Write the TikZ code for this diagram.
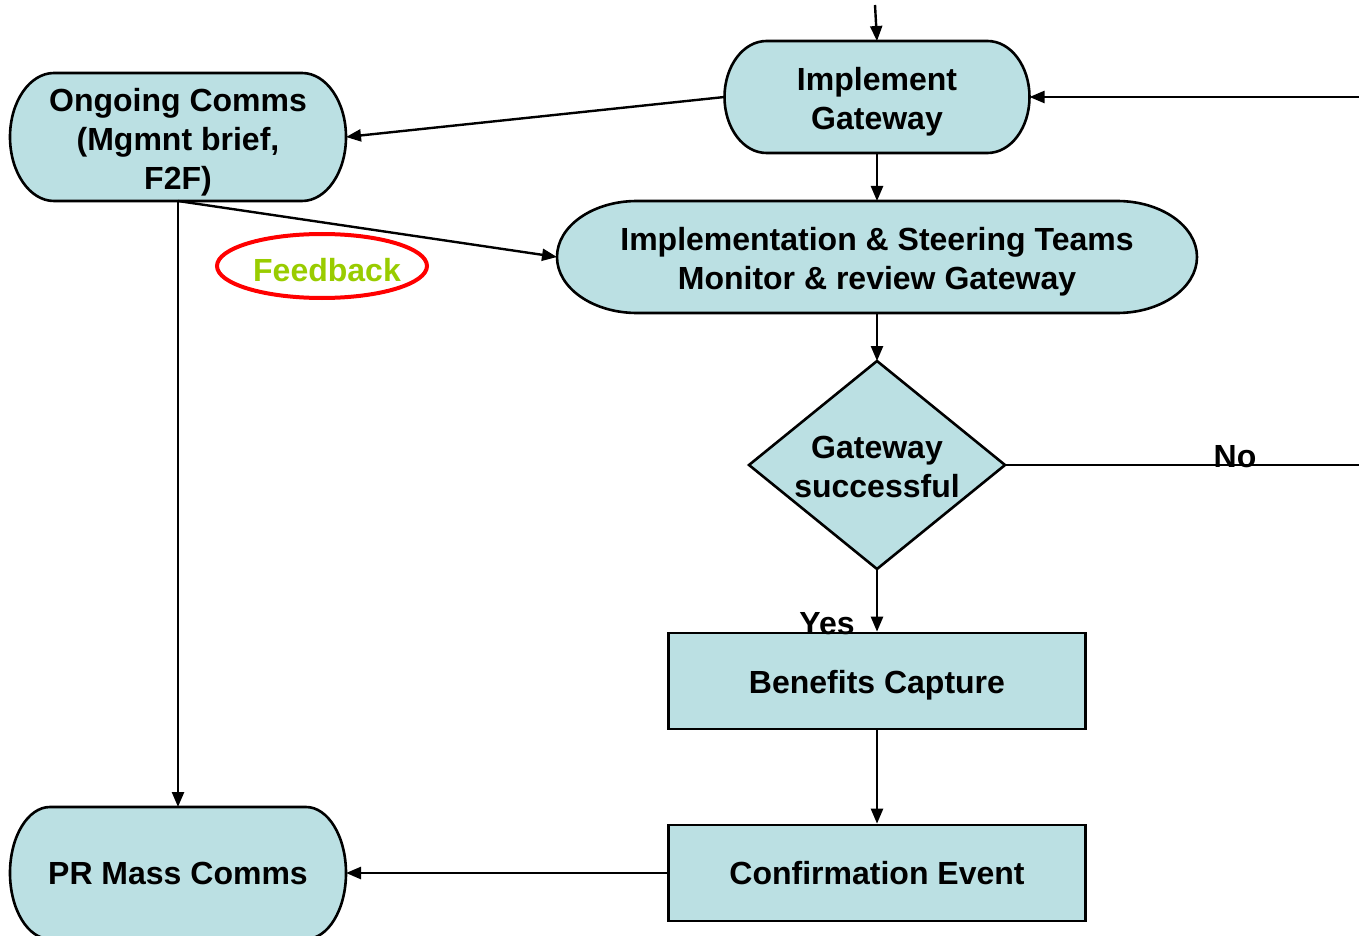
\documentclass[tikz,border=0pt]{standalone}
\usepackage{fontspec}
\setmainfont{Liberation Sans}
\usetikzlibrary{arrows.meta,shapes.geometric,backgrounds}
\definecolor{boxfill}{RGB}{187,224,227}
\definecolor{fbgreen}{RGB}{153,204,0}
\tikzset{
  lbl/.style={font=\fontsize{16pt}{19.5pt}\selectfont\bfseries, align=center, inner sep=0pt},
  outline/.style={draw=black, line width=1.3pt, fill=boxfill},
  frame/.style={rectangle, inner sep=0pt, outer sep=0pt},
  stepbox/.style={outline, rectangle, inner sep=0pt, minimum width=208.5pt, minimum height=48pt},
  flow/.style={draw=black, line width=1.2pt, -{Triangle[length=7.5pt,width=6pt]}},
  plain/.style={draw=black, line width=1.2pt},
  tag/.style={font=\fontsize{16pt}{19.5pt}\selectfont\bfseries, inner sep=0pt, anchor=base},
}
% rounded terminal outline around a named node: #1 node, #2 end x radius, #3 end y radius
\newcommand\pillshape[3]{%
  \path[outline] ([xshift=#2]#1.north west) -- ([xshift=-#2]#1.north east)
    arc[start angle=90, end angle=-90, x radius=#2, y radius=#3]
    -- ([xshift=#2]#1.south west)
    arc[start angle=270, end angle=90, x radius=#2, y radius=#3] -- cycle;}
\begin{document}
\begin{tikzpicture}[x=0.5pt, y=-0.5pt]
\useasboundingbox (0,0) rectangle (1359,936);

% terminals (frames) and their texts
\node[frame, minimum width=152.5pt, minimum height=56pt] (ig) at (877,97) {};
\node[frame, minimum width=168pt, minimum height=64pt] (oc) at (178,137) {};
\node[frame, minimum width=320pt, minimum height=56pt] (ims) at (877,257) {};
\node[frame, minimum width=168pt, minimum height=66pt] (pr) at (178,873) {};
% decision frame: its side anchors are the diamond corners
\node[frame, minimum width=128pt, minimum height=104pt] (gw) at (877,465) {};

\begin{pgfonlayer}{background}
  \pillshape{ig}{21pt}{28pt}
  \pillshape{oc}{22pt}{32pt}
  \pillshape{ims}{40pt}{28pt}
  \pillshape{pr}{20pt}{33pt}
  \path[outline] (gw.north) -- (gw.east) -- (gw.south) -- (gw.west) -- cycle;
\end{pgfonlayer}

\node[lbl] (ig-t) at ([yshift=-2.5pt]ig.center) {Implement\\Gateway};
\node[lbl] (oc-t) at ([yshift=-2.5pt]oc.center) {Ongoing Comms\\(Mgmnt brief,\\F2F)};
\node[lbl] (ims-t) at ([yshift=-2.5pt]ims.center) {Implementation \& Steering Teams\\Monitor \& review Gateway};
\node[lbl] (pr-t) at (pr.center) {PR Mass Comms};
\node[lbl] (gw-t) at ([yshift=-1pt]gw.center) {Gateway\\successful};

% process steps
\node[stepbox] (bc) at (877,681) {};
\node[lbl] (bc-t) at ([yshift=-2pt]bc.center) {Benefits Capture};
\node[stepbox] (ce) at (877,873) {};
\node[lbl] (ce-t) at (ce.center) {Confirmation Event};

% feedback marker
\node[ellipse, draw=red, line width=2pt, inner sep=0pt, minimum width=105pt, minimum height=32pt] (fb) at (322,266) {};
\node[lbl, text=fbgreen] (fb-t) at ([xshift=2.5pt,yshift=-2pt]fb.center) {Feedback};

% loose ends
\coordinate (topin) at (875,5);
\coordinate (rightin) at (1359,97);
\coordinate (noend) at (1359,465);

% connectors
\draw[flow] (topin) -- (ig.north);
\draw[flow] (rightin) -- (ig.east);
\draw[flow] (ig.west) -- (oc.east);
\draw[flow] (ig.south) -- (ims.north);
\draw[flow] (oc.south) -- (ims.west);
\draw[flow] (oc.south) -- (pr.north);
\draw[flow] (ims.south) -- (gw.north);
\draw[plain] (gw.east) -- (noend);
\draw[flow] (gw.south) -- (bc.north);
\draw[flow] (bc.south) -- (ce.north);
\draw[flow] (ce.west) -- (pr.east);

% branch labels
\node[tag] (no) at (1235,467) {No};
\node[tag] (yes) at (827,634) {Yes};
\end{tikzpicture}
\end{document}
